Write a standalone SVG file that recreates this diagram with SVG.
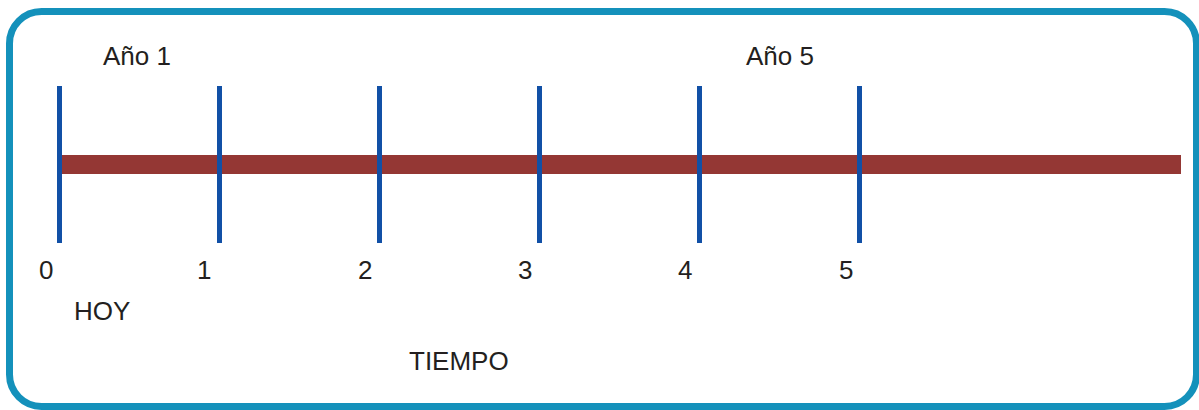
<svg xmlns="http://www.w3.org/2000/svg" width="1199" height="410" viewBox="0 0 1199 410">
<style>
.lbl{font-family:"Liberation Sans",Arial,sans-serif;font-size:26px;fill:#231f20}
.tick{stroke:#1150a6;stroke-width:5}
</style>
<rect x="0" y="0" width="1199" height="410" fill="#ffffff"/>
<rect id="frame" x="9.5" y="11.5" width="1187" height="395" rx="32" ry="32" fill="none" stroke="#1491bb" stroke-width="7"/>
<g id="timeline">
<rect x="59" y="155" width="1122" height="19" fill="#943734"/>
</g>
<g id="ticks">
<line class="tick" x1="59.5" y1="86" x2="59.5" y2="243"/>
<line class="tick" x1="219.5" y1="86" x2="219.5" y2="243"/>
<line class="tick" x1="379.5" y1="86" x2="379.5" y2="243"/>
<line class="tick" x1="539.5" y1="86" x2="539.5" y2="243"/>
<line class="tick" x1="699.5" y1="86" x2="699.5" y2="243"/>
<line class="tick" x1="859.5" y1="86" x2="859.5" y2="243"/>
</g>
<g id="labels">
<text class="lbl" x="103" y="65">Año 1</text>
<text class="lbl" x="746" y="65">Año 5</text>
<text class="lbl" x="39" y="279">0</text>
<text class="lbl" x="197" y="279">1</text>
<text class="lbl" x="358" y="279">2</text>
<text class="lbl" x="518" y="279">3</text>
<text class="lbl" x="678" y="279">4</text>
<text class="lbl" x="839" y="279">5</text>
<text class="lbl" x="74" y="320">HOY</text>
<text class="lbl" x="409" y="370">TIEMPO</text>
</g>
</svg>
